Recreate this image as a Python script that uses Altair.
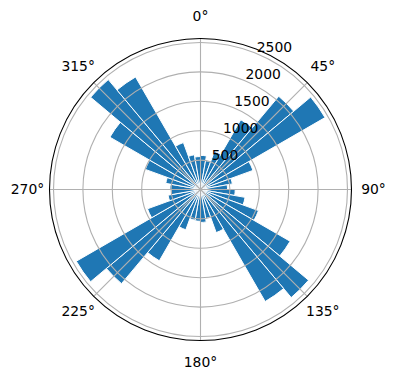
import math
import altair as alt
import pandas as pd

# ---- data ----
bin_centers = [5, 15, 25, 35, 45, 55, 65, 75, 85,
               95, 105, 115, 125, 135, 145, 155, 165, 175,
               185, 195, 205, 215, 225, 235, 245, 255, 265,
               275, 285, 295, 305, 315, 325, 335, 345, 355]
counts = [580, 500, 690, 1370, 2070, 2446, 950, 550, 460,
          590, 770, 1050, 1760, 2400, 2200, 780, 500, 560,
          540, 530, 730, 1400, 2090, 2440, 960, 560, 500,
          520, 600, 1000, 1780, 2440, 2210, 850, 600, 560]
r_ticks = [500, 1000, 1500, 2000, 2500]
r_tick_labels = ["500", "1000", "1500", "2000", "2500"]
theta_ticks = [0, 45, 90, 135, 180, 225, 270, 315]
theta_tick_labels = ["0°", "45°", "90°", "135°", "180°", "225°", "270°", "315°"]

BIN_WIDTH = 10
RMAX = max(counts) * 1.05

# ---- layout ----
W, H = 396, 380
CX, CY = 200.5, 189.5
R_PX = 151
LABEL_R = 173
RLABEL_ANGLE = 22.5
FONT = "DejaVu Sans"
FS = 13.9
BLUE = "#1f77b4"
GRID = "#b0b0b0"

bars = pd.DataFrame({"center": bin_centers, "count": counts})
bars["start"] = bars["center"] - BIN_WIDTH / 2
bars["end"] = bars["center"] + BIN_WIDTH / 2

rings = pd.DataFrame({"r": r_ticks, "label": r_tick_labels})
spokes = pd.DataFrame({"angle": theta_ticks, "label": theta_tick_labels})
outer = pd.DataFrame({"r": [RMAX]})

theta_scale = alt.Scale(domain=[0, 360], range=[0, 2 * math.pi])
r_scale = alt.Scale(type="linear", domain=[0, RMAX], range=[0, R_PX], zero=True, nice=False)

cx = alt.value(CX)
cy = alt.value(CY)

bar_layer = alt.Chart(bars).mark_arc(
    fill=BLUE, stroke="white", strokeWidth=1
).encode(
    x=cx, y=cy,
    theta=alt.Theta("start:Q", scale=theta_scale, stack=None),
    theta2="end:Q",
    radius=alt.Radius("count:Q", scale=r_scale, stack=None),
)

ring_layer = alt.Chart(rings).mark_arc(
    filled=False, stroke=GRID, strokeWidth=1.1
).encode(
    x=cx, y=cy,
    theta=alt.value(0),
    theta2=alt.value(2 * math.pi + 0.001),
    radius=alt.Radius("r:Q", scale=r_scale, stack=None),
)

spoke_layer = alt.Chart(spokes).transform_calculate(
    x0=f"{CX}",
    y0=f"{CY}",
    x1=f"{CX} + {R_PX} * sin(datum.angle * PI / 180)",
    y1=f"{CY} - {R_PX} * cos(datum.angle * PI / 180)",
).mark_rule(stroke=GRID, strokeWidth=1.1).encode(
    x=alt.X("x0:Q", scale=None),
    y=alt.Y("y0:Q", scale=None),
    x2="x1:Q",
    y2="y1:Q",
)

outer_layer = alt.Chart(outer).mark_arc(
    filled=False, stroke="black", strokeWidth=1.1
).encode(
    x=cx, y=cy,
    theta=alt.value(0),
    theta2=alt.value(2 * math.pi + 0.001),
    radius=alt.Radius("r:Q", scale=r_scale, stack=None),
)

theta_label_layer = alt.Chart(spokes).mark_text(
    font=FONT, fontSize=FS, color="black", align="center", baseline="middle"
).encode(
    x=cx, y=cy,
    theta=alt.Theta("angle:Q", scale=theta_scale, stack=None),
    radius=alt.value(LABEL_R),
    text="label:N",
)

r_label_layer = alt.Chart(rings).mark_text(
    font=FONT, fontSize=FS, color="black", align="left", baseline="alphabetic", dy=-2
).encode(
    x=cx, y=cy,
    theta=alt.value(RLABEL_ANGLE * math.pi / 180),
    radius=alt.Radius("r:Q", scale=r_scale, stack=None),
    text="label:N",
)

chart = alt.layer(
    bar_layer, ring_layer, spoke_layer, outer_layer, theta_label_layer, r_label_layer
).properties(
    width=W, height=H,
    autosize=alt.AutoSizeParams(type="none"),
    padding=0,
).configure_view(stroke=None)

chart.save("out.html", embed_options={"renderer": "svg", "actions": False})
